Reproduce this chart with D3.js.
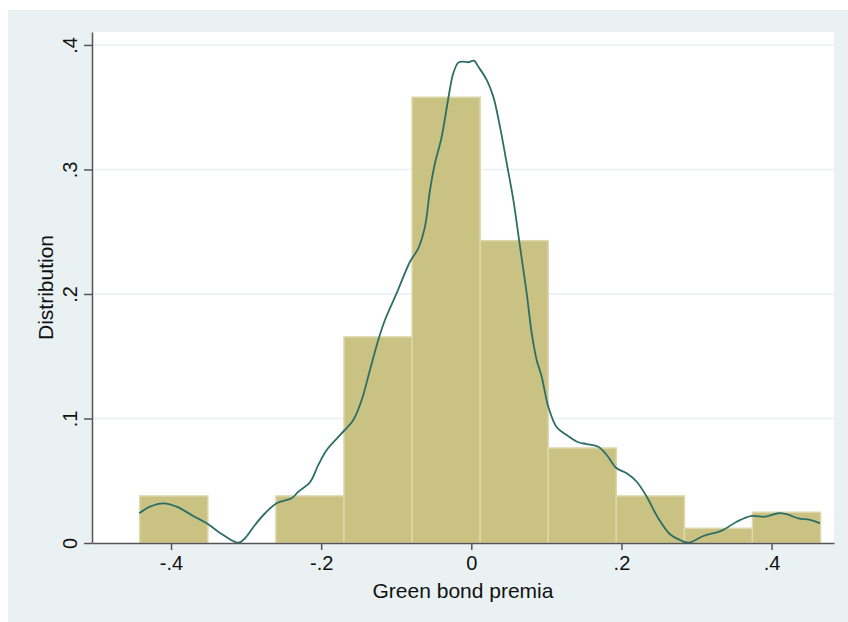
<!DOCTYPE html>
<html lang="en">
<head>
<meta charset="utf-8">
<title>Green bond premia</title>
<script src="https://d3js.org/d3.v7.min.js"></script>
<style>
  html, body { margin: 0; padding: 0; background: #fff; }
  text { font-family: "Liberation Sans", Arial, sans-serif; fill: #111; }
</style>
</head>
<body>
<div id="chart"></div>
<script>
// histogram bins (left edge, width) and heights
var binStarts = [-0.4417, -0.3510, -0.2603, -0.1696, -0.0789, 0.0118, 0.1025, 0.1932, 0.2839, 0.3746];
var binWidth = 0.0907;
var barHeights = [0.0378, 0, 0.0378, 0.1655, 0.358, 0.2428, 0.0763, 0.0378, 0.0118, 0.0247];

// kernel density curve
var densX = [-0.4423, -0.4281, -0.4103, -0.3925, -0.3704, -0.3525, -0.3304, -0.3104, -0.3015, -0.2882,
             -0.2748, -0.2593, -0.2393, -0.2305, -0.2149, -0.2038, -0.1926, -0.1749, -0.1572, -0.1460,
             -0.1350, -0.1239, -0.1150, -0.0994, -0.0817, -0.0706, -0.0617, -0.0550, -0.0484, -0.0394,
             -0.0306, -0.0240, -0.0173, -0.0107, -0.0040, 0.0036, 0.0093, 0.0205, 0.0293, 0.0382,
             0.0472, 0.0560, 0.0649, 0.0738, 0.0805, 0.0871, 0.0938, 0.1026, 0.1138, 0.1271,
             0.1426, 0.1537, 0.1692, 0.1804, 0.1937, 0.2070, 0.2204, 0.2337, 0.2491, 0.2647,
             0.2780, 0.2891, 0.3091, 0.3336, 0.3536, 0.3736, 0.3913, 0.4090, 0.4202, 0.4356,
             0.4512, 0.4646];
var densY = [0.0239, 0.0292, 0.0319, 0.0292, 0.0217, 0.0158, 0.0064, 0.0002, 0.0038, 0.0145,
             0.0239, 0.0319, 0.0359, 0.0412, 0.0488, 0.0627, 0.0747, 0.0867, 0.0988, 0.1149,
             0.1390, 0.1631, 0.1791, 0.2006, 0.2259, 0.2367, 0.2541, 0.2835, 0.3050, 0.3263,
             0.3572, 0.3773, 0.3858, 0.3866, 0.3861, 0.3874, 0.3826, 0.3719, 0.3585, 0.3344,
             0.3050, 0.2755, 0.2380, 0.2006, 0.1684, 0.1470, 0.1336, 0.1095, 0.0929, 0.0867,
             0.0809, 0.0795, 0.0773, 0.0707, 0.0600, 0.0560, 0.0492, 0.0372, 0.0198, 0.0070,
             0.0024, 0.0002, 0.0056, 0.0099, 0.0171, 0.0217, 0.0211, 0.0239, 0.0231, 0.0198,
             0.0185, 0.0158];

var xTicks = [-0.4, -0.2, 0, 0.2, 0.4];
var xTickLabels = ["-.4", "-.2", "0", ".2", ".4"];
var yTicks = [0, 0.1, 0.2, 0.3, 0.4];
var yTickLabels = ["0", ".1", ".2", ".3", ".4"];

var width = 848, height = 622;
var plotL = 92, plotR = 834, plotT = 32, plotB = 543;

var svg = d3.select("#chart").append("svg")
    .attr("width", width)
    .attr("height", height);

// outer graph region
svg.append("rect")
    .attr("x", 8).attr("y", 10)
    .attr("width", width - 8).attr("height", height - 10)
    .attr("fill", "#eaf1f3");

// plot region
svg.append("rect")
    .attr("x", plotL).attr("y", plotT)
    .attr("width", plotR - plotL).attr("height", plotB - plotT)
    .attr("fill", "#fff");

var x = d3.scaleLinear().domain([-0.5053, 0.4832]).range([plotL, plotR]);
var y = d3.scaleLinear().domain([0, 0.4104]).range([plotB, plotT]);

// grid
svg.append("g").selectAll("line")
    .data(yTicks.filter(function(d) { return d > 0; }))
  .enter().append("line")
    .attr("x1", plotL).attr("x2", plotR)
    .attr("y1", function(d) { return y(d); })
    .attr("y2", function(d) { return y(d); })
    .attr("stroke", "#e8f0f2")
    .attr("stroke-width", 1.5);

// bars
var bins = binStarts.map(function(s, i) { return {x0: s, x1: s + binWidth, h: barHeights[i]}; })
    .filter(function(d) { return d.h > 0; });

svg.append("g").selectAll("rect")
    .data(bins)
  .enter().append("rect")
    .attr("x", function(d) { return x(d.x0); })
    .attr("width", function(d) { return x(d.x1) - x(d.x0); })
    .attr("y", function(d) { return y(d.h); })
    .attr("height", function(d) { return y(0) - y(d.h); })
    .attr("fill", "#cac283")
    .attr("stroke", "#dcd7ab")
    .attr("stroke-width", 1.5);

// density
var line = d3.line()
    .x(function(d) { return x(d[0]); })
    .y(function(d) { return y(d[1]); })
    .curve(d3.curveCatmullRom);

svg.append("path")
    .datum(d3.zip(densX, densY))
    .attr("d", line)
    .attr("fill", "none")
    .attr("stroke", "#2c6f67")
    .attr("stroke-width", 1.8);

// axes
var xAxis = d3.axisBottom(x).tickValues(xTicks)
    .tickFormat(function(d, i) { return xTickLabels[i]; })
    .tickSize(7).tickPadding(6).tickSizeOuter(0);
var gx = svg.append("g").attr("transform", "translate(0," + plotB + ")").call(xAxis);
gx.select(".domain").attr("stroke", "#555").attr("stroke-width", 1.5);
gx.selectAll(".tick line").attr("stroke", "#555").attr("stroke-width", 1.5);
gx.selectAll(".tick text").attr("font-size", 20).attr("font-family", "Liberation Sans, Arial, sans-serif")
    .attr("fill", "#111");

var yAxis = d3.axisLeft(y).tickValues(yTicks)
    .tickFormat(function(d, i) { return yTickLabels[i]; })
    .tickSize(8).tickSizeOuter(0);
var gy = svg.append("g").attr("transform", "translate(" + plotL + ",0)").call(yAxis);
gy.select(".domain").attr("stroke", "#555").attr("stroke-width", 1.5);
gy.selectAll(".tick line").attr("stroke", "#555").attr("stroke-width", 1.5);
gy.selectAll(".tick text")
    .attr("font-size", 20).attr("font-family", "Liberation Sans, Arial, sans-serif")
    .attr("fill", "#111")
    .attr("x", null).attr("dy", null)
    .attr("text-anchor", "middle")
    .attr("transform", "translate(-15.5,0) rotate(-90)");

// axis titles
svg.append("text")
    .attr("x", (plotL + plotR) / 2)
    .attr("y", 598)
    .attr("text-anchor", "middle")
    .attr("font-size", 21)
    .text("Green bond premia");

svg.append("text")
    .attr("transform", "translate(53," + ((plotT + plotB) / 2) + ") rotate(-90)")
    .attr("text-anchor", "middle")
    .attr("font-size", 21)
    .text("Distribution");
</script>
</body>
</html>
